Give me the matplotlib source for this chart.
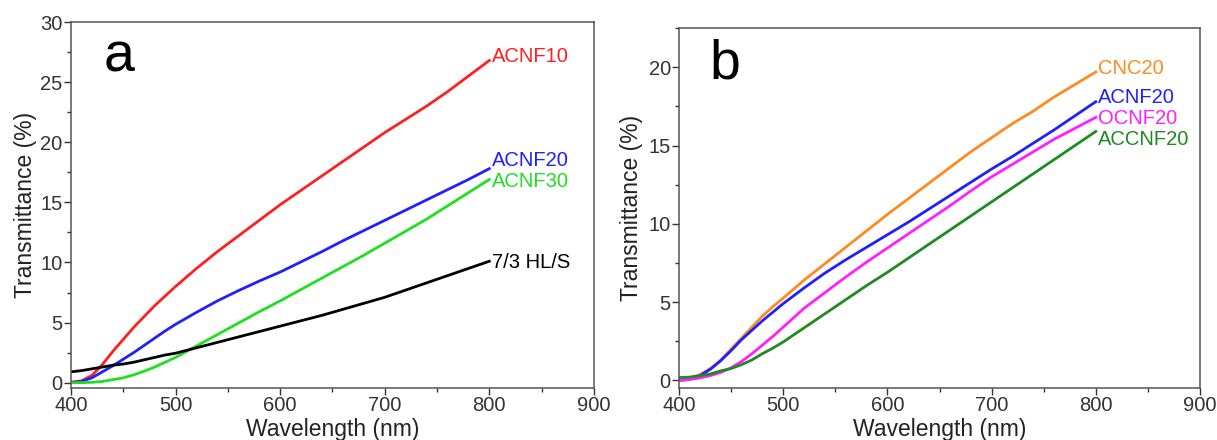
import numpy as np
import matplotlib
matplotlib.use("Agg")
import matplotlib.pyplot as plt
from matplotlib.ticker import MultipleLocator

plt.rcParams['font.family'] = ['Liberation Sans', 'DejaVu Sans']

# wavelength grid (nm): finer steps where the curves bend
wl = [400, 410, 420, 430, 440, 450, 460, 470, 480, 490, 500,
      520, 540, 560, 580, 600, 620, 640, 660, 680, 700,
      720, 740, 760, 780, 800]

# panel a
acnf10 = [0.05, 0.15, 0.6, 1.5, 2.6, 3.6, 4.6, 5.5, 6.4, 7.2, 8.0,
          9.5, 10.9, 12.2, 13.5, 14.8, 16.0, 17.2, 18.4, 19.6, 20.8,
          21.9, 23.0, 24.2, 25.5, 26.8]
acnf20_a = [0.0, 0.1, 0.4, 0.9, 1.4, 1.95, 2.5, 3.1, 3.7, 4.3, 4.85,
            5.85, 6.8, 7.65, 8.45, 9.2, 10.05, 10.9, 11.8, 12.65, 13.5,
            14.35, 15.2, 16.05, 16.9, 17.8]
acnf30 = [0.0, 0.0, 0.03, 0.1, 0.25, 0.4, 0.65, 0.95, 1.3, 1.7, 2.1,
          3.05, 4.0, 4.95, 5.9, 6.8, 7.75, 8.7, 9.65, 10.6, 11.6,
          12.6, 13.6, 14.7, 15.8, 16.9]
hls = [0.9, 1.0, 1.15, 1.3, 1.45, 1.55, 1.7, 1.9, 2.1, 2.3, 2.45,
       2.9, 3.35, 3.8, 4.25, 4.7, 5.15, 5.6, 6.1, 6.6, 7.1,
       7.7, 8.3, 8.9, 9.5, 10.1]

# panel b
cnc20 = [0.0, 0.1, 0.35, 0.75, 1.3, 2.0, 2.7, 3.4, 4.1, 4.7, 5.25,
         6.4, 7.45, 8.5, 9.55, 10.6, 11.6, 12.6, 13.6, 14.6, 15.5,
         16.4, 17.2, 18.1, 18.9, 19.7]
acnf20_b = [0.0, 0.05, 0.3, 0.7, 1.25, 1.9, 2.6, 3.2, 3.8, 4.35, 4.9,
            5.9, 6.85, 7.7, 8.5, 9.3, 10.1, 10.95, 11.8, 12.65, 13.5,
            14.3, 15.15, 16.0, 16.9, 17.8]
ocnf20 = [0.0, 0.05, 0.15, 0.3, 0.5, 0.8, 1.2, 1.7, 2.25, 2.8, 3.4,
          4.6, 5.6, 6.6, 7.55, 8.45, 9.35, 10.25, 11.15, 12.1, 13.0,
          13.8, 14.6, 15.4, 16.1, 16.8]
accnf20 = [0.17, 0.2, 0.3, 0.4, 0.6, 0.75, 1.0, 1.3, 1.7, 2.05, 2.45,
           3.35, 4.25, 5.15, 6.05, 6.9, 7.8, 8.7, 9.6, 10.5, 11.4,
           12.3, 13.2, 14.1, 15.0, 15.9]

series_a = [(acnf10, '#ff1f1f', 'ACNF10', 27.1),
            (acnf20_a, '#1f1fff', 'ACNF20', 18.5),
            (acnf30, '#1fe01f', 'ACNF30', 16.7),
            (hls, '#000000', '7/3 HL/S', 10.0)]
series_b = [(cnc20, '#ff8a1f', 'CNC20', 19.9),
            (acnf20_b, '#1f1fff', 'ACNF20', 18.1),
            (ocnf20, '#ff1fff', 'OCNF20', 16.7),
            (accnf20, '#1f8a1f', 'ACCNF20', 15.4)]


def style_axes(ax, ymin, ymax, letter, letter_pos, ylab_x, xlab_y):
    ax.set_xlim(400, 900)
    ax.set_ylim(ymin, ymax)
    ax.xaxis.set_major_locator(MultipleLocator(100))
    ax.xaxis.set_minor_locator(MultipleLocator(50))
    ax.yaxis.set_major_locator(MultipleLocator(5))
    ax.yaxis.set_minor_locator(MultipleLocator(2.5))
    ax.tick_params(which='major', direction='out', length=5, width=1,
                   labelsize=14.5, colors='#333333', pad=1)
    ax.tick_params(which='minor', direction='out', length=3, width=1,
                   colors='#333333')
    for sp in ax.spines.values():
        sp.set_color('#555555')
        sp.set_linewidth(1.1)
    ax.set_xlabel('Wavelength (nm)', fontsize=16.5, color='#222222', va='top')
    ax.set_ylabel('Transmittance (%)', fontsize=16.5, color='#222222', va='bottom')
    ax.xaxis.set_label_coords(0.5, xlab_y)
    ax.yaxis.set_label_coords(ylab_x, 0.5)
    ax.text(letter_pos[0], letter_pos[1], letter, transform=ax.transAxes,
            fontsize=40, va='baseline', ha='left')


fig = plt.figure(figsize=(12.17, 4.4), dpi=100)
ax1 = fig.add_axes([0.0583, 0.118, 0.4297, 0.832])
ax2 = fig.add_axes([0.558, 0.118, 0.428, 0.818])

for ys, c, name, ty in series_a:
    ax1.plot(wl, ys, color=c, lw=2)
    ax1.text(803, ty, name, color=c, fontsize=14.5, va='center', ha='left')
style_axes(ax1, -0.45, 30, 'a', (0.062, 0.866), -0.065, -0.082)

for ys, c, name, ty in series_b:
    ax2.plot(wl, ys, color=c, lw=2)
    ax2.text(802, ty, name, color=c, fontsize=14.5, va='center', ha='left')
style_axes(ax2, -0.5, 22.5, 'b', (0.058, 0.861), -0.069, -0.083)

fig.savefig('out.png', dpi=100)
